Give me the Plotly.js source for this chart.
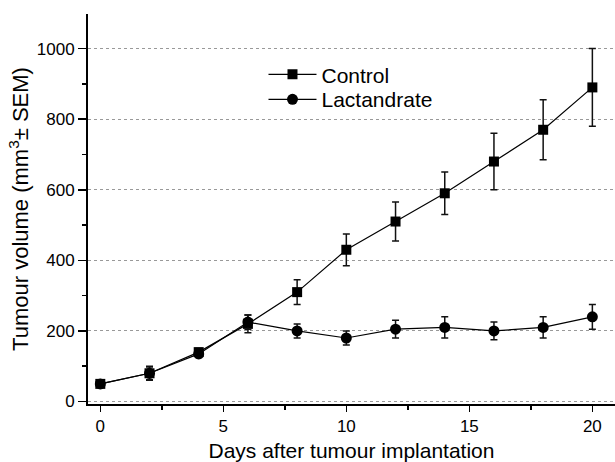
<!DOCTYPE html>
<html>
<head>
<meta charset="utf-8">
<script src="https://cdn.plot.ly/plotly-3.0.1.min.js"></script>
<style>html,body{margin:0;padding:0;background:#fff;overflow:hidden}</style>
</head>
<body>
<div id="chart" style="width:615px;height:462px"></div>
<script>
const days = [0, 2, 4, 6, 8, 10, 12, 14, 16, 18, 20];
const controlMean = [50, 80, 140, 220, 310, 430, 510, 590, 680, 770, 890];
const controlSEM  = [5, 20, 10, 25, 35, 45, 55, 60, 80, 85, 110];
const lactMean = [50, 80, 135, 225, 200, 180, 205, 210, 200, 210, 240];
const lactSEM  = [5, 18, 10, 20, 20, 20, 25, 30, 25, 30, 35];
const seriesNames = ['Control', 'Lactandrate'];
const xTitle = 'Days after tumour implantation';
const yTitle = 'Tumour volume (mm<sup>3</sup>± SEM)';

const FONT = 'Liberation Sans, Arial, sans-serif';

const traces = [
  {
    x: days, y: controlMean, name: seriesNames[0], type: 'scatter', mode: 'lines+markers',
    legend: 'legend',
    line: {color: '#000', width: 1.2},
    marker: {symbol: 'square', size: 10, color: '#000'},
    error_y: {type: 'data', array: controlSEM, visible: true, color: '#111', thickness: 1.5, width: 3.5}
  },
  {
    x: days, y: lactMean, name: seriesNames[1], type: 'scatter', mode: 'lines+markers',
    legend: 'legend2',
    line: {color: '#000', width: 1.2},
    marker: {symbol: 'circle', size: 11, color: '#000'},
    error_y: {type: 'data', array: lactSEM, visible: true, color: '#111', thickness: 1.5, width: 3.5}
  }
];

const legendFont = {family: FONT, size: 21, color: '#000'};
const layout = {
  width: 615, height: 462,
  margin: {l: 88, r: 0, t: 14, b: 58},
  paper_bgcolor: '#fff', plot_bgcolor: '#fff',
  font: {family: FONT, color: '#000'},
  showlegend: true,
  legend: {x: 0.333, y: 0.897, xanchor: 'left', yanchor: 'top', font: legendFont, bgcolor: 'rgba(0,0,0,0)', itemwidth: 48},
  legend2: {x: 0.333, y: 0.833, xanchor: 'left', yanchor: 'top', font: legendFont, bgcolor: 'rgba(0,0,0,0)', itemwidth: 48},
  xaxis: {
    range: [-0.5, 20.92], tickvals: [0, 5, 10, 15, 20], ticktext: ['0','5','10','15','20'],
    showline: true, linecolor: '#000', linewidth: 2, mirror: false,
    ticks: 'outside', ticklen: 6, tickwidth: 1.5, tickcolor: '#000',
    tickfont: {family: FONT, size: 17, color: '#000'},
    minor: {tickvals: [2.5, 7.5, 12.5, 17.5], ticks: 'outside', ticklen: 4, tickwidth: 1.5, tickcolor: '#000', showgrid: false},
    showgrid: false, zeroline: false,
    title: {text: xTitle, font: {family: FONT, size: 21, color: '#000'}, standoff: 8}
  },
  yaxis: {
    range: [-7, 1098], tickvals: [0, 200, 400, 600, 800, 1000],
    showline: true, linecolor: '#000', linewidth: 2,
    ticks: 'outside', ticklen: 8, tickwidth: 1.5, tickcolor: '#000',
    tickfont: {family: FONT, size: 17, color: '#000'},
    minor: {tickvals: [100, 300, 500, 700, 900], ticks: 'outside', ticklen: 4, tickwidth: 1.5, tickcolor: '#000', showgrid: false},
    showgrid: true, gridcolor: '#999', gridwidth: 1, griddash: 'dot', zeroline: false,
    title: {text: yTitle, font: {family: FONT, size: 22, color: '#000'}, standoff: 2}
  }
};

Plotly.newPlot('chart', traces, layout, {displayModeBar: false, staticPlot: true});
</script>
</body>
</html>
